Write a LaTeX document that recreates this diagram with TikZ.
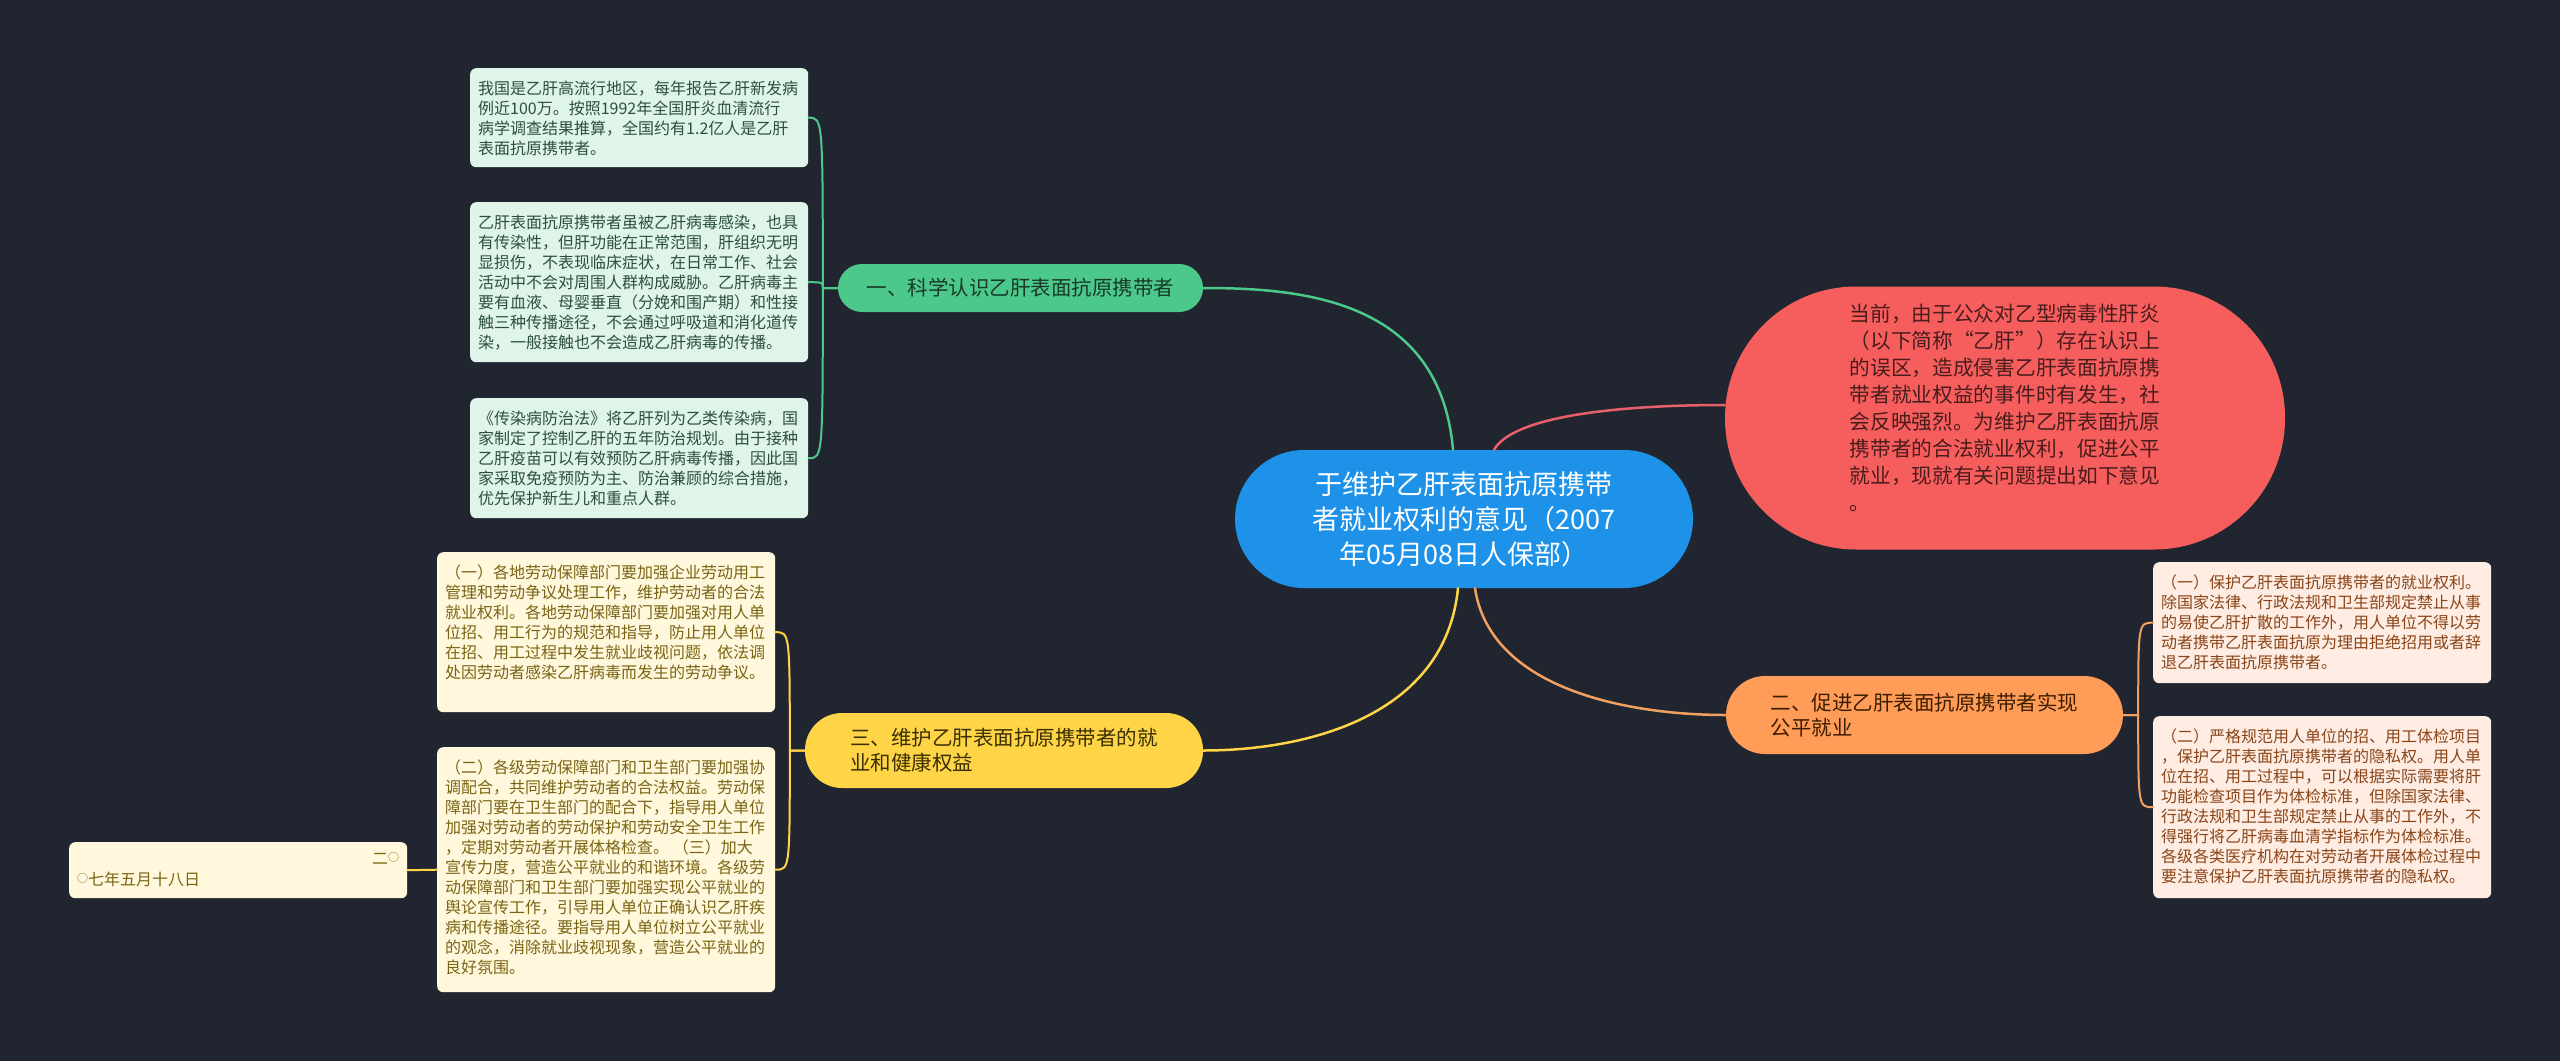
\documentclass[tikz,border=0pt]{standalone}
\usepackage{fontspec}
\setmainfont{Noto Sans CJK SC}
\usetikzlibrary{calc}
\definecolor{bgc}{HTML}{21252F}
\definecolor{cblue}{HTML}{1E91E8}
\definecolor{cred}{HTML}{F65E5E}
\definecolor{credtxt}{HTML}{4A1C1C}
\definecolor{cgreen}{HTML}{4DC88B}
\definecolor{cgreentxt}{HTML}{173A28}
\definecolor{cyellow}{HTML}{FFD447}
\definecolor{cyellowtxt}{HTML}{3A3000}
\definecolor{corange}{HTML}{FF9C58}
\definecolor{corangetxt}{HTML}{3D1C00}
\definecolor{gleaf}{HTML}{E0F5EA}
\definecolor{gleaftxt}{HTML}{2C4F3E}
\definecolor{yleaf}{HTML}{FFF8DC}
\definecolor{yleaftxt}{HTML}{7A6414}
\definecolor{oleaf}{HTML}{FFEDE3}
\definecolor{oleaftxt}{HTML}{8A4418}
\definecolor{lred}{HTML}{E8606A}
\definecolor{lorange}{HTML}{F2A060}
\newcommand\lbox[2]{\parbox[c][#1][t]{322pt}{\vspace*{12.5pt}\fontsize{16}{20}\selectfont\raggedright #2}}
\newcommand\smallo{\raisebox{3pt}{\fontsize{11}{11}\selectfont ○}}
\begin{document}
\begin{tikzpicture}[x=1pt,y=-1pt,
  leafbox/.style={anchor=north west,inner xsep=8pt,inner ysep=0pt,rounded corners=6pt,minimum width=338pt},
  gleafbox/.style={leafbox,fill=gleaf,text=gleaftxt},
  yleafbox/.style={leafbox,fill=yleaf,text=yleaftxt},
  oleafbox/.style={leafbox,fill=oleaf,text=oleaftxt},
  branch/.style={inner sep=0pt,align=left,font=\fontsize{20.5}{25}\selectfont},
  mainline/.style={line width=2.5pt,line cap=round},
  leafline/.style={line width=2pt,line cap=round}]
\useasboundingbox (0,0) rectangle (2560,1061);
\fill[bgc] (0,0) rectangle (2560,1061);

% central node
\node[fill=cblue,text=white,rounded corners=69pt,minimum width=458pt,minimum height=138pt,inner sep=0pt,align=center,font=\fontsize{27}{35}\selectfont] (c) at (1464,519)
  {于维护乙肝表面抗原携带\\者就业权利的意见（2007\\年05月08日人保部）};

% red intro node
\node[fill=cred,text=credtxt,rounded corners=131pt,minimum width=560pt,minimum height=263pt,inner sep=0pt,align=left,font=\fontsize{20.7}{27}\selectfont] (r) at (2005,418)
  {当前，由于公众对乙型病毒性肝炎\\（以下简称“乙肝”）存在认识上\\的误区，造成侵害乙肝表面抗原携\\带者就业权益的事件时有发生，社\\会反映强烈。为维护乙肝表面抗原\\携带者的合法就业权利，促进公平\\就业，现就有关问题提出如下意见\\。\\[-6pt]};

% branches
\node[branch,fill=cgreen,text=cgreentxt,rounded corners=24pt,minimum width=365pt,minimum height=48pt] (gb) at (1020.5,288) {一、科学认识乙肝表面抗原携带者};
\node[branch,fill=cyellow,text=cyellowtxt,rounded corners=37pt,minimum width=398pt,minimum height=75pt] (yb) at (1004,750.5) {三、维护乙肝表面抗原携带者的就\\业和健康权益};
\node[branch,fill=corange,text=corangetxt,rounded corners=39pt,minimum width=397pt,minimum height=78pt] (ob) at (1924.5,715) {二、促进乙肝表面抗原携带者实现\\公平就业};

% green leaves
\node[gleafbox] (l1) at (470,68) {\lbox{99pt}{我国是乙肝高流行地区，每年报告乙肝新发病\\例近100万。按照1992年全国肝炎血清流行\\病学调查结果推算，全国约有1.2亿人是乙肝\\表面抗原携带者。}};
\node[gleafbox] (l2) at (470,202) {\lbox{160pt}{乙肝表面抗原携带者虽被乙肝病毒感染，也具\\有传染性，但肝功能在正常范围，肝组织无明\\显损伤，不表现临床症状，在日常工作、社会\\活动中不会对周围人群构成威胁。乙肝病毒主\\要有血液、母婴垂直（分娩和围产期）和性接\\触三种传播途径，不会通过呼吸道和消化道传\\染，一般接触也不会造成乙肝病毒的传播。}};
\node[gleafbox] (l3) at (470,398) {\lbox{120pt}{《传染病防治法》将乙肝列为乙类传染病，国\\家制定了控制乙肝的五年防治规划。由于接种\\乙肝疫苗可以有效预防乙肝病毒传播，因此国\\家采取免疫预防为主、防治兼顾的综合措施，\\优先保护新生儿和重点人群。}};

% yellow leaves
\node[yleafbox] (y1) at (437,552) {\lbox{160pt}{（一）各地劳动保障部门要加强企业劳动用工\\管理和劳动争议处理工作，维护劳动者的合法\\就业权利。各地劳动保障部门要加强对用人单\\位招、用工行为的规范和指导，防止用人单位\\在招、用工过程中发生就业歧视问题，依法调\\处因劳动者感染乙肝病毒而发生的劳动争议。}};
\node[yleafbox] (y2) at (437,747) {\lbox{245pt}{（二）各级劳动保障部门和卫生部门要加强协\\调配合，共同维护劳动者的合法权益。劳动保\\障部门要在卫生部门的配合下，指导用人单位\\加强对劳动者的劳动保护和劳动安全卫生工作\\，定期对劳动者开展体格检查。\ （三）加大\\宣传力度，营造公平就业的和谐环境。各级劳\\动保障部门和卫生部门要加强实现公平就业的\\舆论宣传工作，引导用人单位正确认识乙肝疾\\病和传播途径。要指导用人单位树立公平就业\\的观念，消除就业歧视现象，营造公平就业的\\良好氛围。}};
\node[yleafbox] (yd) at (69,842) {\parbox[c][56pt][t]{322pt}{\vspace*{10pt}\fontsize{16}{21}\selectfont\raggedright\hfill 二\smallo\\\smallo 七年五月十八日}};

% orange leaves
\node[oleafbox] (o1) at (2153,562) {\lbox{121pt}{（一）保护乙肝表面抗原携带者的就业权利。\\除国家法律、行政法规和卫生部规定禁止从事\\的易使乙肝扩散的工作外，用人单位不得以劳\\动者携带乙肝表面抗原为理由拒绝招用或者辞\\退乙肝表面抗原携带者。}};
\node[oleafbox] (o2) at (2153,716) {\lbox{182pt}{（二）严格规范用人单位的招、用工体检项目\\，保护乙肝表面抗原携带者的隐私权。用人单\\位在招、用工过程中，可以根据实际需要将肝\\功能检查项目作为体检标准，但除国家法律、\\行政法规和卫生部规定禁止从事的工作外，不\\得强行将乙肝病毒血清学指标作为体检标准。\\各级各类医疗机构在对劳动者开展体检过程中\\要注意保护乙肝表面抗原携带者的隐私权。}};

% main connectors
\coordinate (cg) at ([xshift=-11pt]c.north);
\coordinate (cr) at ([xshift=30pt]c.north);
\coordinate (cy) at ([xshift=-6pt]c.south);
\coordinate (co) at ([xshift=11pt]c.south);
\coordinate (rw) at ([yshift=13pt]r.west);
\draw[mainline,cgreen] (cg) .. controls ($(cg)+(-13,-150)$) and ($(gb.east)+(100,0)$) .. (gb.east);
\draw[mainline,lred] (cr) .. controls ($(cr)+(20,-35)$) and ($(rw)+(-100,0)$) .. (rw);
\draw[mainline,cyellow] (cy) .. controls ($(cy)+(-13,130)$) and ($(yb.east)+(100,0)$) .. (yb.east);
\draw[mainline,lorange] (co) .. controls ($(co)+(15,100)$) and ($(ob.west)+(-100,0)$) .. (ob.west);

% green leaf connectors
\coordinate (gj) at ($(gb.west)+(-15pt,0)$);
\draw[leafline,cgreen] (gb.west) -- (gj) .. controls (gj |- l1.east) .. (l1.east);
\draw[leafline,cgreen] (gb.west) -- (gj) .. controls (gj |- l2.east) .. (l2.east);
\draw[leafline,cgreen] (gb.west) -- (gj) .. controls (gj |- l3.east) .. (l3.east);

% yellow leaf connectors
\coordinate (yj) at ($(yb.west)+(-15pt,0)$);
\draw[leafline,cyellow] (yb.west) -- (yj) .. controls (yj |- y1.east) .. (y1.east);
\draw[leafline,cyellow] (yb.west) -- (yj) .. controls (yj |- y2.east) .. (y2.east);
\draw[leafline,cyellow] (y2.west) -- (yd.east);

% orange leaf connectors
\coordinate (oj) at ($(ob.east)+(15pt,0)$);
\draw[leafline,lorange] (ob.east) -- (oj) .. controls (oj |- o1.west) .. (o1.west);
\draw[leafline,lorange] (ob.east) -- (oj) .. controls (oj |- o2.west) .. (o2.west);
\end{tikzpicture}
\end{document}
